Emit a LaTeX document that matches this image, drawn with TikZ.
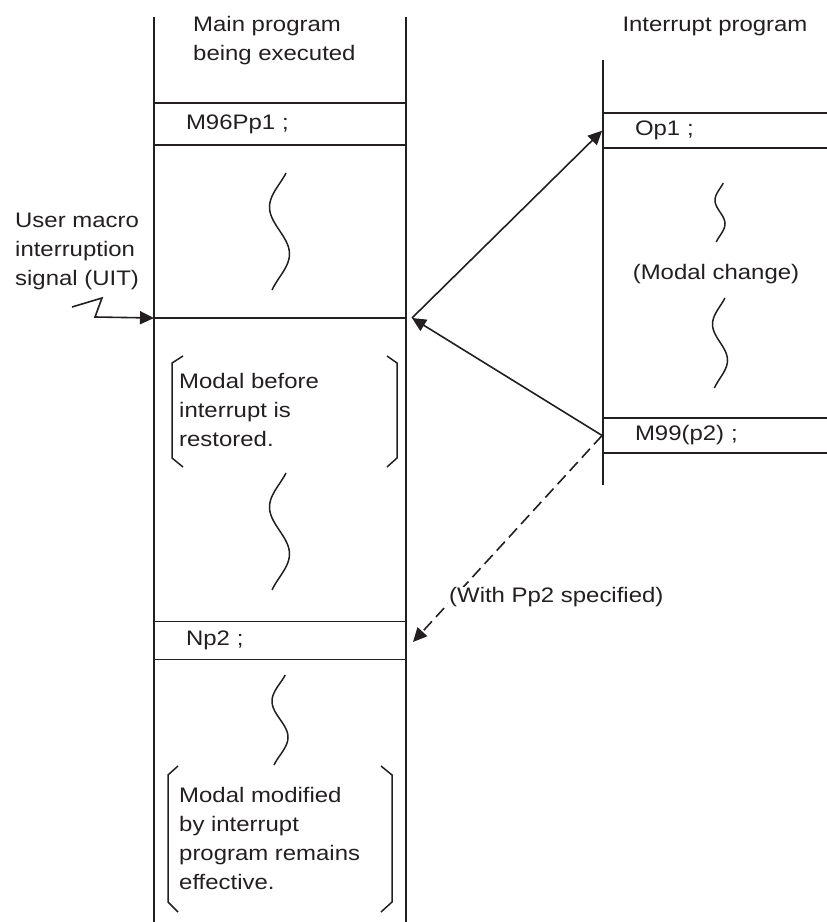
\documentclass[tikz,border=0pt]{standalone}
\usepackage{fontspec}
\setmainfont{Liberation Sans}[FakeStretch=1.14]
\usetikzlibrary{arrows.meta}
\definecolor{ink}{HTML}{231F20}

\begin{document}
\begin{tikzpicture}[
    x=1pt, y=-1pt,
    font=\fontsize{21}{29}\selectfont,
    every node/.style={text=ink},
    col/.style={draw=ink, line width=2pt},
    row/.style={draw=ink, line width=1.8pt, inner xsep=32pt, inner ysep=0pt, align=left, text width=#1},
    txt/.style={inner sep=0pt, align=left, anchor=west},
    arrow/.style={draw=ink, line width=1.6pt, -{Triangle[length=14pt, width=13pt]}},
    wavy/.style={draw=ink, line width=1.5pt},
    brak/.style={draw=ink, line width=1.5pt},
    wave/.pic={\draw[wavy] plot[domain=0:1, samples=40, variable=\t] ({sin(deg(2.43+7.84*\t))}, {\t});}
]
\useasboundingbox (0,0) rectangle (827,922);

\draw[col] (154,17) -- (154,930);
\draw[col] (406,17) -- (406,930);
\draw[col] (603,60) -- (603,485);

\node[txt] (mainlbl) at (193,41) {Main program\\being executed};
\node[txt, anchor=center] (intlbl) at (715,26) {Interrupt program};
\node[txt] (uitlbl) at (15,251) {User macro\\interruption\\signal (UIT)};

\node[row=188pt, minimum height=42pt] (m96) at (280,124) {M96Pp1 ;};
\node[row=188pt, minimum height=38pt] (np2) at (280,640.5) {Np2 ;};
\node[row=168pt, minimum height=35pt] (op1) at (719,130.7) {Op1 ;};
\node[row=168pt, minimum height=35pt] (m99) at (719,435.5) {M99(p2) ;};

\node[txt, anchor=center] (modchg) at (716,274.5) {(Modal change)};
\node[txt] (before) at (179,410) {Modal before\\interrupt is\\restored.};
\node[txt] (modified) at (179,838.4) {Modal modified\\by interrupt\\program remains\\effective.};

\pic[xscale=10, yscale=117] at (279.5,173) {wave};
\pic[xscale=10, yscale=117] at (279.5,473) {wave};
\pic[xscale=8, yscale=90] at (280,675) {wave};
\pic[xscale=5, yscale=59] at (720,183) {wave};
\pic[xscale=7.5, yscale=90] at (720,298) {wave};

\draw[brak] (183,356) -- (172,363) -- (172,458) -- (183,467);
\draw[brak] (387,356) -- (397,363) -- (397,458) -- (387,467);
\draw[brak] (178,766) -- (168,775) -- (168,902) -- (178,912);
\draw[brak] (381,766) -- (392,775) -- (392,902) -- (381,912);

\coordinate (uitin) at (154,318);
\coordinate (uitout) at (406,318);
\coordinate (ret) at (412,318);
\coordinate (sig) at (72,307);
\coordinate (np2in) at (413,642);

\draw[col] (uitin) -- (uitout);
\draw[arrow] (sig) -- ++(30,-9) -- ++(-7,19) -- (uitin);
\draw[arrow] (ret) -- (op1.west);
\draw[arrow] (m99.west) -- (ret);
\draw[arrow, dash pattern=on 12pt off 6pt] (m99.west) -- (np2in);

\node[txt, fill=white, inner sep=1pt] (withpp2) at (448,597.5) {(With Pp2 specified)};
\end{tikzpicture}
\end{document}
